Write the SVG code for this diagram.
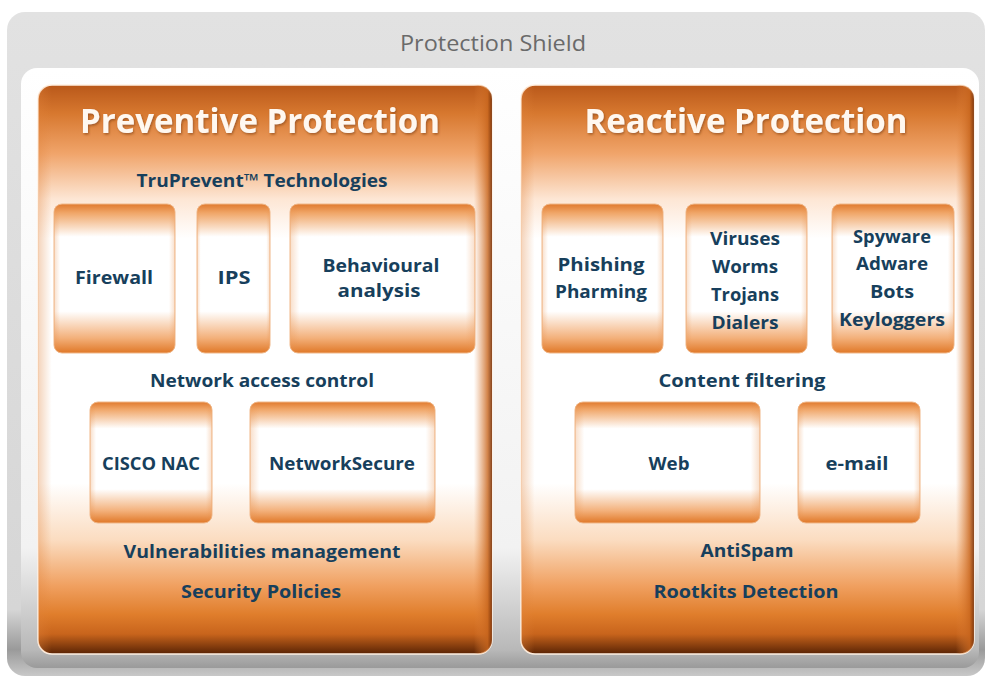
<svg xmlns="http://www.w3.org/2000/svg" width="992" height="682" viewBox="0 0 992 682">
<defs>
<linearGradient id="outer" x1="0" y1="0" x2="0" y2="1">
<stop offset="0" stop-color="#e2e2e2"/>
<stop offset="0.9" stop-color="#d6d6d6"/>
<stop offset="0.96" stop-color="#9a9a9a"/>
<stop offset="1" stop-color="#c8c8c8"/>
</linearGradient>
<linearGradient id="inner" x1="0" y1="0" x2="0" y2="1">
<stop offset="0" stop-color="#ffffff"/>
<stop offset="0.8" stop-color="#f2f2f2"/>
<stop offset="0.97" stop-color="#b8b8b8"/>
<stop offset="1" stop-color="#9a9a9a"/>
</linearGradient>
<linearGradient id="panelV" x1="0" y1="0" x2="0" y2="1">
<stop offset="0" stop-color="#b9581a"/>
<stop offset="0.05" stop-color="#d7782f"/>
<stop offset="0.12" stop-color="#f0a46a"/>
<stop offset="0.2" stop-color="#fde6d4"/>
<stop offset="0.27" stop-color="#ffffff"/>
<stop offset="0.7" stop-color="#ffffff"/>
<stop offset="0.8" stop-color="#fbdcc0"/>
<stop offset="0.88" stop-color="#f0a060"/>
<stop offset="0.93" stop-color="#e07e2c"/>
<stop offset="0.965" stop-color="#c8641c"/>
<stop offset="1" stop-color="#5a2405"/>
</linearGradient>
<linearGradient id="panelH" x1="0" y1="0" x2="1" y2="0">
<stop offset="0" stop-color="#e0823a" stop-opacity="0.35"/>
<stop offset="0.03" stop-color="#e0823a" stop-opacity="0"/>
<stop offset="0.96" stop-color="#e0823a" stop-opacity="0"/>
<stop offset="0.99" stop-color="#c8661e" stop-opacity="0.8"/>
<stop offset="1" stop-color="#7a3208" stop-opacity="0.9"/>
</linearGradient>
<linearGradient id="boxV" x1="0" y1="0" x2="0" y2="1">
<stop offset="0" stop-color="#e07a2e"/>
<stop offset="0.06" stop-color="#f0a668"/>
<stop offset="0.22" stop-color="#ffffff"/>
<stop offset="0.72" stop-color="#ffffff"/>
<stop offset="0.9" stop-color="#f3b07a"/>
<stop offset="1" stop-color="#e07828"/>
</linearGradient>
<linearGradient id="boxH" x1="0" y1="0" x2="1" y2="0">
<stop offset="0" stop-color="#e8914c" stop-opacity="0.3"/>
<stop offset="0.05" stop-color="#e8914c" stop-opacity="0"/>
<stop offset="0.95" stop-color="#e8914c" stop-opacity="0"/>
<stop offset="1" stop-color="#e8914c" stop-opacity="0.3"/>
</linearGradient>
<filter id="sh" x="-10%" y="-10%" width="120%" height="130%">
<feDropShadow dx="1" dy="1.5" stdDeviation="1" flood-color="#7a3a10" flood-opacity="0.6"/>
</filter>
</defs>
<style>
.t{font-family:"Open Sans","Noto Sans",sans-serif;font-weight:bold;fill:#173f5c;text-anchor:middle;font-size:18px}
.title{font-family:"Open Sans","Noto Sans",sans-serif;font-weight:bold;fill:#fff8f0;text-anchor:middle;font-size:34px}
.shield{font-family:"Open Sans","Noto Sans",sans-serif;fill:#6a6a6a;text-anchor:middle;font-size:22px}
.box{stroke:#f0b88a;stroke-width:1}
.panel{stroke:#fff1e4;stroke-width:1.5}
</style>
<rect width="992" height="682" fill="#ffffff"/>
<rect x="7" y="12" width="978" height="664" rx="18" fill="url(#outer)"/>
<text class="shield" x="493" y="51" textLength="186" lengthAdjust="spacingAndGlyphs">Protection Shield</text>
<rect x="21" y="68" width="958" height="600" rx="16" fill="url(#inner)"/>

<g id="preventive">
<rect class="panel" x="38" y="85" width="454" height="569" rx="14" fill="url(#panelV)"/>
<rect x="38" y="85" width="454" height="569" rx="14" fill="url(#panelH)"/>
<text class="title" x="260" y="133" textLength="360" lengthAdjust="spacingAndGlyphs" filter="url(#sh)">Preventive Protection</text>
<text class="t" x="262" y="187" textLength="251" lengthAdjust="spacingAndGlyphs">TruPrevent™ Technologies</text>
<text class="t" x="262" y="387" textLength="224" lengthAdjust="spacingAndGlyphs">Network access control</text>
<text class="t" x="262" y="558" textLength="277" lengthAdjust="spacingAndGlyphs">Vulnerabilities management</text>
<text class="t" x="261" y="598" textLength="160" lengthAdjust="spacingAndGlyphs">Security Policies</text>
</g>
<g id="firewall">
<rect class="box" x="54" y="204" width="121" height="149" rx="8" fill="url(#boxV)"/>
<rect x="54" y="204" width="121" height="149" rx="8" fill="url(#boxH)"/>
<text class="t" x="114" y="284" textLength="78" lengthAdjust="spacingAndGlyphs">Firewall</text>
</g>
<g id="ips">
<rect class="box" x="197" y="204" width="73" height="149" rx="8" fill="url(#boxV)"/>
<rect x="197" y="204" width="73" height="149" rx="8" fill="url(#boxH)"/>
<text class="t" x="234" y="284" textLength="33" lengthAdjust="spacingAndGlyphs">IPS</text>
</g>
<g id="behavioural">
<rect class="box" x="290" y="204" width="185" height="149" rx="8" fill="url(#boxV)"/>
<rect x="290" y="204" width="185" height="149" rx="8" fill="url(#boxH)"/>
<text class="t" x="381" y="272" textLength="117" lengthAdjust="spacingAndGlyphs">Behavioural</text>
<text class="t" x="379" y="297" textLength="83" lengthAdjust="spacingAndGlyphs">analysis</text>
</g>
<g id="cisco">
<rect class="box" x="90" y="402" width="122" height="121" rx="8" fill="url(#boxV)"/>
<rect x="90" y="402" width="122" height="121" rx="8" fill="url(#boxH)"/>
<text class="t" x="151" y="470" textLength="98" lengthAdjust="spacingAndGlyphs">CISCO NAC</text>
</g>
<g id="networksecure">
<rect class="box" x="250" y="402" width="185" height="121" rx="8" fill="url(#boxV)"/>
<rect x="250" y="402" width="185" height="121" rx="8" fill="url(#boxH)"/>
<text class="t" x="342" y="470" textLength="146" lengthAdjust="spacingAndGlyphs">NetworkSecure</text>
</g>

<g id="reactive">
<rect class="panel" x="521" y="85" width="453" height="569" rx="14" fill="url(#panelV)"/>
<rect x="521" y="85" width="453" height="569" rx="14" fill="url(#panelH)"/>
<text class="title" x="746" y="133" textLength="323" lengthAdjust="spacingAndGlyphs" filter="url(#sh)">Reactive Protection</text>
<text class="t" x="742" y="387" textLength="167" lengthAdjust="spacingAndGlyphs">Content filtering</text>
<text class="t" x="747" y="557" textLength="93" lengthAdjust="spacingAndGlyphs">AntiSpam</text>
<text class="t" x="746" y="598" textLength="185" lengthAdjust="spacingAndGlyphs">Rootkits  Detection</text>
</g>
<g id="phishing">
<rect class="box" x="542" y="204" width="121" height="149" rx="8" fill="url(#boxV)"/>
<rect x="542" y="204" width="121" height="149" rx="8" fill="url(#boxH)"/>
<text class="t" x="601" y="271" textLength="87" lengthAdjust="spacingAndGlyphs">Phishing</text>
<text class="t" x="601" y="298" textLength="92" lengthAdjust="spacingAndGlyphs">Pharming</text>
</g>
<g id="viruses">
<rect class="box" x="686" y="204" width="121" height="149" rx="8" fill="url(#boxV)"/>
<rect x="686" y="204" width="121" height="149" rx="8" fill="url(#boxH)"/>
<text class="t" x="745" y="245" textLength="70" lengthAdjust="spacingAndGlyphs">Viruses</text>
<text class="t" x="745" y="273" textLength="66" lengthAdjust="spacingAndGlyphs">Worms</text>
<text class="t" x="745" y="301" textLength="68" lengthAdjust="spacingAndGlyphs">Trojans</text>
<text class="t" x="745" y="329" textLength="67" lengthAdjust="spacingAndGlyphs">Dialers</text>
</g>
<g id="spyware">
<rect class="box" x="832" y="204" width="122" height="149" rx="8" fill="url(#boxV)"/>
<rect x="832" y="204" width="122" height="149" rx="8" fill="url(#boxH)"/>
<text class="t" x="892" y="243" textLength="78" lengthAdjust="spacingAndGlyphs">Spyware</text>
<text class="t" x="892" y="270" textLength="72" lengthAdjust="spacingAndGlyphs">Adware</text>
<text class="t" x="892" y="298" textLength="44" lengthAdjust="spacingAndGlyphs">Bots</text>
<text class="t" x="892" y="326" textLength="106" lengthAdjust="spacingAndGlyphs">Keyloggers</text>
</g>
<g id="web">
<rect class="box" x="575" y="402" width="185" height="121" rx="8" fill="url(#boxV)"/>
<rect x="575" y="402" width="185" height="121" rx="8" fill="url(#boxH)"/>
<text class="t" x="669" y="470" textLength="41" lengthAdjust="spacingAndGlyphs">Web</text>
</g>
<g id="email">
<rect class="box" x="798" y="402" width="122" height="121" rx="8" fill="url(#boxV)"/>
<rect x="798" y="402" width="122" height="121" rx="8" fill="url(#boxH)"/>
<text class="t" x="857" y="470" textLength="63" lengthAdjust="spacingAndGlyphs">e-mail</text>
</g>
<g id="connectors"></g>
</svg>
